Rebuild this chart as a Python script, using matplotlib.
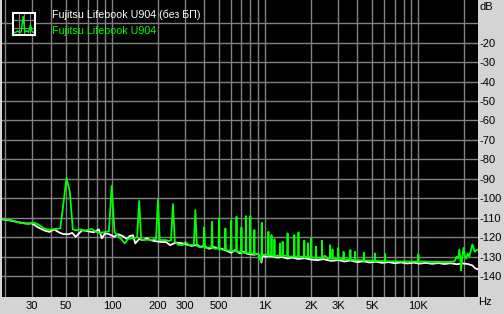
import numpy as np
import matplotlib.pyplot as plt
from matplotlib.ticker import FixedLocator, FixedFormatter, NullFormatter

plt.rcParams['font.family'] = ['Liberation Sans', 'DejaVu Sans']
plt.rcParams['axes.unicode_minus'] = False

# white trace: laptop without power supply
white_hz = [19, 22, 25, 28, 30, 33, 36, 39, 42, 45, 48, 52, 55, 58, 61, 64, 70, 76, 82, 86,
            90, 96, 103, 110, 118, 125, 130, 137, 142, 150, 160, 170, 177, 190, 210, 225, 240, 260, 280, 300,
            330, 360, 375, 400, 430, 460, 490, 520, 560, 600, 640, 680, 720, 760, 800, 850, 900, 946, 960, 1000,
            1100, 1200, 1300, 1400, 1500, 1650, 1800, 2000, 2200, 2400, 2700, 3000, 3300, 3600, 4000, 4400, 4800, 5300, 5800, 6400,
            7000, 7700, 8500, 9300, 10200, 11200, 12300, 13500, 14800, 16200, 17800, 19500, 21000, 22500, 23500, 24400]
white_db = [-110.8, -111.5, -112.5, -113, -112.9, -115, -116.5, -117.3, -116, -117.5, -118.4, -118.5, -117.8, -119.8, -118, -116.4, -117, -117.5, -116, -120.6,
            -118, -118.5, -119.8, -118.5, -119.5, -121, -119.5, -119, -123.2, -121, -121.5, -120.5, -121.5, -122, -122.5, -122.5, -124.1, -122.8, -123, -123.5,
            -124.5, -124, -125, -124.5, -126, -125, -125.8, -126, -127, -128, -126.5, -128.3, -127.5, -128.5, -128.8, -129, -128.5, -133, -129.5, -130,
            -129.8, -130.5, -130.2, -131, -130.5, -131.2, -130.8, -131.5, -131.8, -131.3, -132.2, -131.8, -132.5, -132, -132.8, -132.4, -133, -132.6, -133.2, -132.8,
            -133.4, -133, -133.5, -133.1, -133.6, -133.2, -133.7, -133.3, -133.8, -133.4, -133.9, -133.5, -133.8, -134.5, -136, -136.5]

# green trace: laptop on power supply (mains hum harmonics)
green_hz = [19, 22, 25, 28, 31, 33, 36, 39, 42, 46, 50.5, 53, 55.5,
            58, 62, 66, 70, 74, 78, 83, 88, 92, 95.5, 99.5, 104,
            110, 115, 121, 127, 133, 140, 146, 150.5, 155, 160, 170, 180, 188, 194, 199.5, 205, 212, 225, 235, 243,
            250, 257, 270, 290, 300, 320, 335, 342, 350, 358, 375,
            395, 400, 405, 430, 446, 450, 454, 475, 496, 500, 504, 530, 546, 550, 554, 580, 596, 600, 604, 630,
            646, 650, 654, 680, 696, 700, 704, 730, 746, 750, 754, 780, 796, 800, 804,
            830, 846, 850, 854, 900, 940, 946, 950, 954, 1000, 1046, 1050, 1054, 1096, 1100, 1104, 1146, 1150, 1154, 1200,
            1246, 1250, 1254, 1296, 1300, 1304, 1350, 1396, 1400, 1404, 1450, 1546, 1550, 1554, 1600, 1646, 1650, 1654, 1700, 1796,
            1800, 1804, 1850, 1896, 1900, 1904, 1950, 1996, 2000, 2004,
            2100, 2146, 2150, 2154, 2250, 2346, 2350, 2354, 2450, 2550, 2646, 2650, 2654, 2746, 2750, 2754, 2900, 2996, 3000, 3004,
            3150, 3246, 3250, 3254, 3450, 3596, 3600, 3604, 3846, 3850, 3854, 4100, 4396, 4400, 4404, 4800, 5196, 5200, 5204, 5600,
            6046, 6050, 6054, 6600, 7200, 7800, 8500, 9200, 9950, 10000, 10050,
            11000, 12000, 13000, 14500, 16000, 17200, 17800, 18200, 18500, 18800, 19000, 19300, 19700, 20100, 20500, 21000,
            21500, 22000, 22500, 23000, 23300, 23800, 24400]
green_db = [-110.8, -111.3, -112.5, -113.2, -112.6, -113.5, -115.5, -116.3, -115.8, -115.5, -89.5, -96.5, -116,
            -116.5, -116, -116.7, -116.2, -115.8, -117, -118, -117.5, -117.2, -117, -93.7, -117.5,
            -119.5, -121, -123.2, -121, -120.6, -120.6, -120, -101.4, -121, -121.5, -121.3, -121.5, -121, -121, -100.6, -121.5, -121.5, -121.5, -122, -121.5,
            -103, -122, -124, -124.1, -122.5, -124, -124, -124, -106.1, -124.5, -125.2,
            -125, -115, -125.5, -125.5, -125, -112.1, -125.5, -126, -125.5, -110.3, -126, -126.5, -126, -115.5, -126.5, -127, -126.5, -111.6, -127, -127.3,
            -127, -109.5, -127.5, -127.5, -127.5, -115, -128, -128, -127.8, -109.2, -128, -128.3, -128, -109.1, -128.3,
            -128.5, -128.5, -116.3, -128.8, -128.5, -132.5, -128.5, -112.6, -129, -129, -129, -117.2, -129.5, -129.2, -118.9, -129.5, -129.5, -121.1, -129.8, -129.5,
            -129.5, -123.2, -129.5, -129.6, -122.4, -129.8, -129.5, -129.6, -118, -129.8, -130, -129.8, -118.9, -130, -130, -130, -117.5, -130.2, -130, -130,
            -121.8, -130.2, -130, -130.2, -123.2, -130.3, -130.2, -130.3, -120.6, -130.5,
            -130.5, -130.5, -124.9, -130.6, -130.6, -130.6, -121.8, -130.8, -129.5, -130.8, -130.8, -124.1, -131, -131, -126.3, -131, -131.2, -131.2, -125.5, -131.3,
            -131.3, -131.4, -127.5, -131.5, -131.5, -131.6, -126.6, -131.7, -131.7, -127.5, -131.8, -131.8, -132, -128, -132, -132, -132.2, -128.3, -132.2, -132.3,
            -132.3, -128.6, -132.4, -132.4, -132.5, -132.5, -132.5, -132.6, -132.6, -128.9, -132.6,
            -132.5, -132.8, -132.6, -132.8, -132.7, -132.5, -130, -131, -126.3, -131, -137, -131, -125.5, -129.5, -131, -128.5,
            -130, -127, -123.7, -126, -127.5, -126.8, -126.5]

grid_hz = [20, 30, 40, 50, 60, 70, 80, 90, 100, 200, 300, 400, 500, 600, 700, 800, 900,
           1000, 2000, 3000, 4000, 5000, 6000, 7000, 8000, 9000, 10000, 20000]
xtick_hz = [30, 50, 100, 200, 300, 500, 1000, 2000, 3000, 5000, 10000]
xtick_lbl = ['30', '50', '100', '200', '300', '500', '1K', '2K', '3K', '5K', '10K']
grid_db = [-10, -20, -30, -40, -50, -60, -70, -80, -90, -100, -110, -120, -130, -140]
ytick_db = [-20, -30, -40, -50, -60, -70, -80, -90, -100, -110, -120, -130, -140]
legend_lbl = ['Fujitsu Lifebook U904 (без БП)', 'Fujitsu Lifebook U904']
icon_y = [0.12, 0.12, 0.18, 0.12, 0.14, 0.85, 0.12, 0.2, 0.12, 0.45, 0.14, 0.12]

W, H = 504, 314
bg = '#d4d4d4'
fig = plt.figure(figsize=(W / 100, H / 100), dpi=100, facecolor=bg)
ax = fig.add_axes([1.5 / W, 1 - 296.7 / H, 476.2 / W, 296.7 / H])
ax.set_facecolor('black')

ax.plot(white_hz, white_db, color='white', lw=1.3, zorder=3)
ax.plot(green_hz, green_db, color='#00ff00', lw=1.3, zorder=4)

ax.set_xscale('log')
ax.set_xlim(19, 24400)
ax.set_ylim(-150.6, 1.9)

ax.xaxis.set_major_locator(FixedLocator(xtick_hz))
ax.xaxis.set_major_formatter(FixedFormatter(xtick_lbl))
ax.xaxis.set_minor_locator(FixedLocator(grid_hz))
ax.xaxis.set_minor_formatter(NullFormatter())
ax.yaxis.set_major_locator(FixedLocator(ytick_db))
ax.yaxis.set_major_formatter(FixedFormatter([str(v) for v in ytick_db]))
ax.yaxis.set_minor_locator(FixedLocator(grid_db))
ax.yaxis.tick_right()
ax.tick_params(which='both', length=0, labelsize=8, colors='black')
ax.tick_params(axis='x', pad=3)
ax.tick_params(axis='y', pad=1)
for lbl in ax.get_yticklabels():
    lbl.set_horizontalalignment('left')
ax.grid(which='both', color='#808080', lw=1)
ax.set_axisbelow(True)
for s in ax.spines.values():
    s.set_visible(False)

fig.text(480 / W, 1 - 7.5 / H, 'dB', fontsize=8, va='center', ha='left')
fig.text(478 / W, 1 - 302 / H, 'Hz', fontsize=8, va='center', ha='left')

# legend: icon plus coloured captions
icon = fig.add_axes([13 / W, 1 - 35 / H, 22 / W, 22 / H])
icon.set_facecolor('black')
icon.plot(range(len(icon_y)), icon_y, color='#00ff00', lw=1)
icon.set_xlim(-0.5, len(icon_y) - 0.5)
icon.set_ylim(0, 1)
icon.set_xticks([2.5, 5.5, 8.5])
icon.set_yticks([0.33, 0.66])
icon.tick_params(length=0, labelbottom=False, labelleft=False)
icon.grid(color='#808080', lw=0.8)
for s in icon.spines.values():
    s.set_color('white')
    s.set_linewidth(1.5)

fig.text(52 / W, 1 - 15 / H, legend_lbl[0], color='white', fontsize=7.7, va='center')
fig.text(52 / W, 1 - 31 / H, legend_lbl[1], color='#00ff00', fontsize=7.7, va='center')

fig.savefig('out.png', dpi=100, facecolor=bg)
